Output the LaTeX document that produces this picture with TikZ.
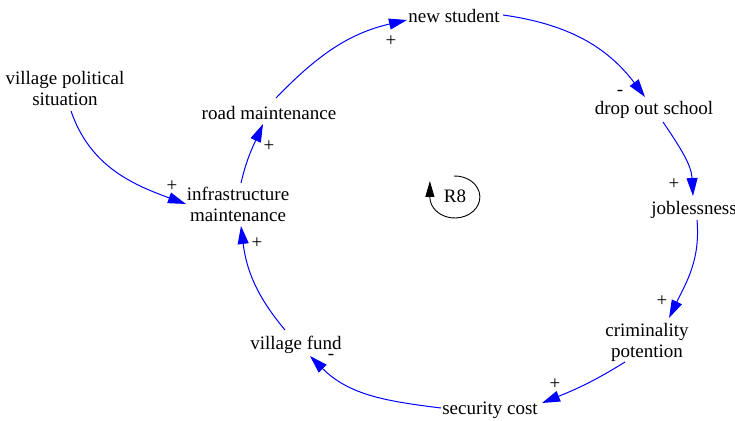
\documentclass[tikz,border=0pt]{standalone}
\usepackage{fontspec}
\setmainfont{Liberation Serif}
\usetikzlibrary{arrows.meta,calc}
\begin{document}
\begin{tikzpicture}[x=1pt,y=1pt,
  base/.style={inner sep=0pt,align=center,font=\fontsize{19}{21}\selectfont},
  var/.style={base,text height=0.7em,text depth=0.22em},
  var2/.style={base},
  sgn/.style={inner sep=0pt,font=\fontsize{19}{21}\selectfont},
  link/.style={draw=blue,line width=1pt,-{Triangle[length=18pt,width=11pt]}}]
\useasboundingbox (0,0) rectangle (735,420);
\node[var] (ns) at (454,400) {new student};
\node[var] (dos) at (654,308) {drop out school};
\node[var] (job) at (694,208) {joblessness};
\node[var2] (crim) at (647,77.5) {criminality\\potention};
\node[var] (sc) at (490,8) {security cost};
\node[var] (vf) at (296,73) {village fund};
\node[var2] (im) at (238,215.5) {infrastructure\\maintenance};
\node[var] (rm) at (269,303) {road maintenance};
\node[var2] (vps) at (65,331.6) {village political\\situation};
\node[var] (r8) at (455,220) {R8};

\draw[link] ($(rm)+(7,19)$) to[out=46,in=193] ($(ns)+(-47,0)$);
\draw[link] ($(ns)+(49,5)$) to[out=-8,in=127] ($(dos)+(-9,15)$);
\draw[link] ($(dos)+(9,-10)$) to[out=-56,in=93] ($(job)+(-1,16)$);
\draw[link] ($(job)+(3,-8)$) to[out=-85,in=64] ($(crim)+(22,24.5)$);
\draw[link] ($(crim)+(-22,-19.5)$) to[out=-148,in=22] ($(sc)+(52,9)$);
\draw[link] ($(sc)+(-49,4)$) to[out=173,in=-45] ($(vf)+(14,-9)$);
\draw[link] ($(vf)+(-11,17)$) to[out=130,in=-83] ($(im)+(3,-21.5)$);
\draw[link] ($(im)+(3,21.5)$) to[out=77,in=246] ($(rm)+(-6,-7)$);
\draw[link] ($(vps)+(6,-22.6)$) to[out=-71,in=160] ($(im)+(-52,0.5)$);

\node[sgn] (p1) at (391,379) {+};
\node[sgn] (p2) at (620,327) {-};
\node[sgn] (p3) at (674,236) {+};
\node[sgn] (p4) at (662,119) {+};
\node[sgn] (p5) at (555,36) {+};
\node[sgn] (p6) at (331,63) {-};
\node[sgn] (p7) at (257,177) {+};
\node[sgn] (p8) at (269,274) {+};
\node[sgn] (p9) at (172,234) {+};

\draw[line width=0.9pt,-{Triangle[length=16pt,width=9pt]}]
  ($(r8)+(-1,24)$) arc[start angle=92,end angle=-180,x radius=25,y radius=21] -- ++(0,16);
\end{tikzpicture}
\end{document}
